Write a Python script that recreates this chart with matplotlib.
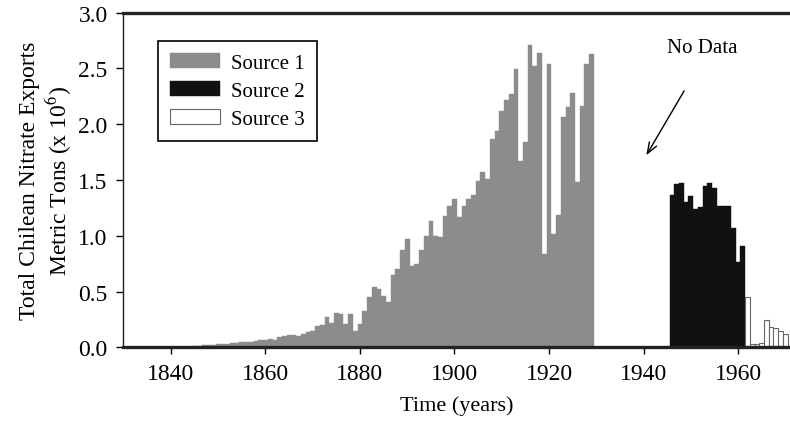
import matplotlib
matplotlib.use("Agg")
import matplotlib.pyplot as plt
from matplotlib.ticker import FormatStrFormatter

# Chilean nitrate exports, million metric tons per year
years_1 = list(range(1844, 1930))
source_1 = [0.005, 0.01, 0.015, 0.02, 0.02, 0.025, 0.03, 0.03, 0.035, 0.04,
            0.04, 0.045, 0.05, 0.05, 0.06, 0.065, 0.07, 0.08, 0.07, 0.09,
            0.10, 0.11, 0.11, 0.10, 0.12, 0.135, 0.15, 0.19, 0.20, 0.27,
            0.22, 0.31, 0.30, 0.21, 0.30, 0.15, 0.21, 0.33, 0.45, 0.54,
            0.52, 0.46, 0.41, 0.65, 0.70, 0.87, 0.97, 0.73, 0.75, 0.87,
            1.00, 1.13, 1.00, 0.99, 1.18, 1.27, 1.33, 1.17, 1.27, 1.33,
            1.37, 1.49, 1.57, 1.51, 1.87, 1.94, 2.12, 2.22, 2.27, 2.49,
            1.67, 1.84, 2.71, 2.52, 2.64, 0.84, 2.54, 1.02, 1.19, 2.06,
            2.15, 2.28, 1.48, 2.16, 2.54, 2.63]

years_2 = list(range(1946, 1962))
source_2 = [1.37, 1.46, 1.47, 1.30, 1.36, 1.24, 1.26, 1.45, 1.47, 1.43,
            1.27, 1.27, 1.27, 1.07, 0.77, 0.91]

years_3 = list(range(1962, 1971))
source_3 = [0.45, 0.03, 0.03, 0.04, 0.25, 0.18, 0.17, 0.15, 0.12]

x_ticks = [1840, 1860, 1880, 1900, 1920, 1940, 1960]
y_ticks = [0.0, 0.5, 1.0, 1.5, 2.0, 2.5, 3.0]

plt.rcParams['font.family'] = ['Liberation Serif', 'DejaVu Serif']
plt.rcParams['mathtext.fontset'] = 'stix'

fig = plt.figure(figsize=(7.9, 4.39), dpi=100)
ax = fig.add_axes([0.1557, 0.2062, 0.8443, 0.763])

ax.bar(years_1, source_1, width=1.0, color='#8c8c8c', edgecolor='#8c8c8c',
       linewidth=0.3, label='Source 1')
ax.bar(years_2, source_2, width=1.0, color='#111111', edgecolor='#111111',
       linewidth=0.3, label='Source 2')
ax.bar(years_3, source_3, width=1.0, color='white', edgecolor='#666666',
       linewidth=0.8, label='Source 3')

# arrow pointing into the gap
ax.annotate("", xy=(1940.3, 1.70), xytext=(1948.9, 2.32),
            arrowprops=dict(arrowstyle="->,head_length=0.8,head_width=0.3",
                            lw=1.0, color='black'))
ax.text(1952.5, 2.69, "No Data", ha='center', va='center', fontsize=15)

ax.set_xlim(1829.85, 1971.0)
ax.set_ylim(0, 3.0)
ax.set_xticks(x_ticks)
ax.set_yticks(y_ticks)
ax.yaxis.set_major_formatter(FormatStrFormatter('%.1f'))
ax.tick_params(direction='out', length=5, width=1, labelsize=17, pad=6)

ax.spines['right'].set_visible(False)
ax.spines['top'].set_linewidth(2.4)
ax.spines['bottom'].set_linewidth(2.4)
ax.spines['left'].set_linewidth(1.0)
for s in ax.spines.values():
    s.set_color('#222222')

ax.set_xlabel("Time (years)", fontsize=16, labelpad=8)
ax.set_ylabel("Total Chilean Nitrate Exports\nMetric Tons (x 10$^6$)",
              fontsize=17, labelpad=3, linespacing=1.15)

leg = ax.legend(loc='upper left', bbox_to_anchor=(0.052, 0.915),
                fontsize=15, fancybox=False, framealpha=1,
                edgecolor='black', handlelength=2.4, handleheight=0.7,
                handletextpad=0.5, borderpad=0.6, labelspacing=0.4,
                borderaxespad=0)
leg.get_frame().set_linewidth(1.2)

fig.savefig("out.png", dpi=100)
